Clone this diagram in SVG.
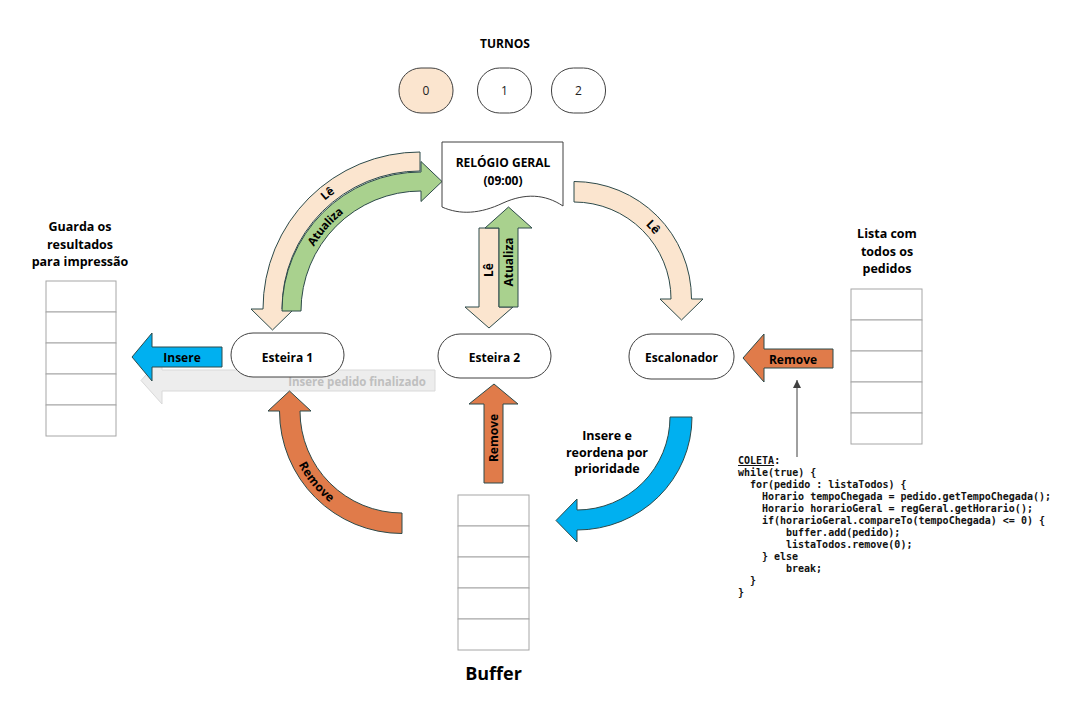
<svg xmlns="http://www.w3.org/2000/svg" xmlns:xlink="http://www.w3.org/1999/xlink" width="1089" height="702" viewBox="0 0 1089 702">
<style>
.lbl{font-family:"Open Sans","Noto Sans","Liberation Sans",sans-serif;font-weight:700;fill:#000;text-anchor:middle}
.num{font-family:"Open Sans","Noto Sans","Liberation Sans",sans-serif;font-size:12px;fill:#222;text-anchor:middle}
.node{fill:#fff;stroke:#404040;stroke-width:1}
.cell{fill:#fff;stroke:#a6a6a6;stroke-width:1}
.arr{stroke:#2d4a4a;stroke-width:1;stroke-linejoin:miter}
.beige{fill:#fbe5cf}
.green{fill:#a9d18e}
.orange{fill:#e07b4a}
.blue{fill:#00b0f0}
.code{font-family:"DejaVu Sans Mono","Liberation Mono",monospace;font-size:10px;font-weight:700;fill:#111}
</style>
<defs>
<marker id="ah" markerWidth="8" markerHeight="8" refX="8" refY="4" orient="auto" markerUnits="userSpaceOnUse">
<path d="M0,0 L8,4 L0,8 Z" fill="#404040"/>
</marker>
<path id="pLe1" d="M272.5,309 A147.5,147.5 0 0 1 420,161.5"/>
<path id="pAt1" d="M291.5,311 A129.5,129.5 0 0 1 421,181.5"/>
<path id="pLe2" d="M574,191.75 A107.25,107.25 0 0 1 681.25,299"/>
<path id="pRm1" d="M289.75,411 A112.25,112.25 0 0 0 402,523.25"/>
</defs>
<rect width="1089" height="702" fill="#fff"/>

<g id="turnos">
<text class="lbl" x="505" y="48" font-size="12">TURNOS</text>
<rect x="399" y="68" width="54" height="45" rx="22" ry="22" fill="#fbe5cf" stroke="#404040"/>
<text class="num" x="426" y="95">0</text>
<rect x="477.5" y="68" width="54" height="45" rx="22" ry="22" class="node"/>
<text class="num" x="504.5" y="95">1</text>
<rect x="551.5" y="68" width="54" height="45" rx="22" ry="22" class="node"/>
<text class="num" x="578.5" y="95">2</text>
</g>

<g id="connectors">
<path d="M435,370 L162,370 L162,357 L141,380.5 L162,404 L162,391 L435,391 Z" fill="#ededed" stroke="#d9d9d9"/>
<text class="lbl" x="357" y="386" font-size="11.5" style="fill:#bfbfbf">Insere pedido finalizado</text>
<path class="arr blue" d="M222,347 L152,347 L152,333 L132,357 L152,381 L152,367 L222,367 Z"/>
<text class="lbl" x="182" y="361.5" font-size="12">Insere</text>
<path class="arr beige" d="M420,152 A157,157 0 0 0 263,309 L251,309 L272.5,330 L294,309 L282,309 A138,138 0 0 1 420,171 Z"/>
<text class="lbl" font-size="11.5" dy="0.3em"><textPath xlink:href="#pLe1" href="#pLe1" startOffset="57%">Lê</textPath></text>
<path class="arr green" d="M282,311 A139,139 0 0 1 421,172 L421,161.5 L442,181.5 L421,201.5 L421,191 A120,120 0 0 0 301,311 Z"/>
<text class="lbl" font-size="11.5" dy="0.4em"><textPath xlink:href="#pAt1" href="#pAt1" startOffset="46%">Atualiza</textPath></text>
<path class="arr beige" d="M479,228 L499,228 L499,307 L513,307 L489,328 L465,307 L479,307 Z"/>
<text class="lbl" font-size="12" transform="translate(489,270) rotate(-90)" dy="0.35em">Lê</text>
<path class="arr green" d="M499,307 L518,307 L518,228 L532,228 L508.5,207 L485,228 L499,228 Z"/>
<text class="lbl" font-size="12" transform="translate(508.5,262) rotate(-90)" dy="0.35em">Atualiza</text>
<path class="arr beige" d="M574,181.5 A117.5,117.5 0 0 1 691.5,299 L703,299 L681.5,320 L660,299 L671,299 A97,97 0 0 0 574,202 Z"/>
<text class="lbl" font-size="12" dy="0.35em"><textPath xlink:href="#pLe2" href="#pLe2" startOffset="53%">Lê</textPath></text>
<path class="arr orange" d="M402,533.5 A122.5,122.5 0 0 1 279.5,411 L268,411 L289.5,391 L311,411 L300,411 A102,102 0 0 0 402,513 Z"/>
<text class="lbl" font-size="12" dy="0.35em"><textPath xlink:href="#pRm1" href="#pRm1" startOffset="44%">Remove</textPath></text>
<path class="arr orange" d="M484,483 L503,483 L503,404 L518,404 L494,384 L469,404 L484,404 Z"/>
<text class="lbl" font-size="12" transform="translate(494,438) rotate(-90)" dy="0.35em">Remove</text>
<path class="arr blue" d="M670,417 L692,417 A115,113 0 0 1 577,530 L577,542 L556,520.5 L577,499 L577,510 A93,93 0 0 0 670,417 Z"/>
<path class="arr orange" d="M833,349 L764,349 L764,334 L743,358 L764,382 L764,368 L833,368 Z"/>
<text class="lbl" x="793" y="363.5" font-size="12">Remove</text>
<line x1="797" y1="457" x2="797" y2="380" stroke="#404040" stroke-width="1" marker-end="url(#ah)"/>
</g>

<g id="relogio">
<path d="M442,142 L563,142 L563,206 C545,194 525,193 503,203 C480,214 460,215 442,207 Z" fill="#fff" stroke="#404040"/>
<text class="lbl" x="503" y="166.5" font-size="12">RELÓGIO GERAL</text>
<text class="lbl" x="503" y="184.5" font-size="12">(09:00)</text>
</g>

<g id="esteira1">
<rect x="231" y="333" width="113" height="44" rx="22" ry="22" class="node"/>
<text class="lbl" x="287.5" y="361.5" font-size="12">Esteira 1</text>
</g>
<g id="esteira2">
<rect x="438" y="334" width="113" height="44" rx="22" ry="22" class="node"/>
<text class="lbl" x="494.5" y="362" font-size="12">Esteira 2</text>
</g>
<g id="escalonador">
<rect x="629" y="334" width="105" height="45" rx="22" ry="22" class="node"/>
<text class="lbl" x="681.5" y="362" font-size="12">Escalonador</text>
</g>

<g id="resultados">
<text class="lbl" x="80" y="231" font-size="12.5">Guarda os</text>
<text class="lbl" x="80" y="248.5" font-size="12.5">resultados</text>
<text class="lbl" x="80" y="266" font-size="12.5">para impressão</text>
<rect class="cell" x="46" y="281" width="70" height="31"/>
<rect class="cell" x="46" y="312" width="70" height="31"/>
<rect class="cell" x="46" y="343" width="70" height="31"/>
<rect class="cell" x="46" y="374" width="70" height="31"/>
<rect class="cell" x="46" y="405" width="70" height="31"/>
</g>

<g id="listaTodos">
<text class="lbl" x="887" y="238" font-size="12.5">Lista com</text>
<text class="lbl" x="887" y="255.5" font-size="12.5">todos os</text>
<text class="lbl" x="887" y="273" font-size="12.5">pedidos</text>
<rect class="cell" x="851" y="289" width="71" height="31"/>
<rect class="cell" x="851" y="320" width="71" height="31"/>
<rect class="cell" x="851" y="351" width="71" height="31"/>
<rect class="cell" x="851" y="382" width="71" height="31"/>
<rect class="cell" x="851" y="413" width="71" height="31"/>
</g>

<g id="buffer">
<rect class="cell" x="458" y="495" width="71" height="31"/>
<rect class="cell" x="458" y="526" width="71" height="31"/>
<rect class="cell" x="458" y="557" width="71" height="31"/>
<rect class="cell" x="458" y="588" width="71" height="31"/>
<rect class="cell" x="458" y="619" width="71" height="31"/>
<text class="lbl" x="493.5" y="680" font-size="18">Buffer</text>
</g>

<g id="insereReordena">
<text class="lbl" x="607" y="439.5" font-size="12.5">Insere e</text>
<text class="lbl" x="607" y="456.5" font-size="12.5">reordena por</text>
<text class="lbl" x="607" y="473" font-size="12.5">prioridade</text>
</g>

<g id="coleta">
<text class="code" x="738" y="464"><tspan text-decoration="underline">COLETA</tspan>:</text>
<text class="code" x="738" y="476">while(true) {</text>
<text class="code" x="750" y="488">for(pedido : listaTodos) {</text>
<text class="code" x="762" y="500">Horario tempoChegada = pedido.getTempoChegada();</text>
<text class="code" x="762" y="512">Horario horarioGeral = regGeral.getHorario();</text>
<text class="code" x="762" y="524">if(horarioGeral.compareTo(tempoChegada) &lt;= 0) {</text>
<text class="code" x="786" y="536">buffer.add(pedido);</text>
<text class="code" x="786" y="548">listaTodos.remove(0);</text>
<text class="code" x="762" y="560">} else</text>
<text class="code" x="786" y="572">break;</text>
<text class="code" x="750" y="584">}</text>
<text class="code" x="738" y="596">}</text>
</g>
</svg>
